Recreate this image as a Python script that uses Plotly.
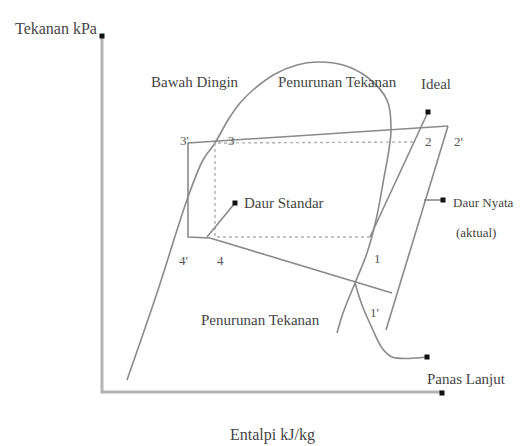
import plotly.graph_objects as go

# schematic p-h diagram, coordinates in picture units (x right, y down)
dome_x = [127, 157, 188, 203, 215, 228, 240, 253, 275, 297, 317, 343, 367, 387, 391, 383, 376, 367, 355, 343, 337]
dome_y = [380, 293, 197, 160, 143, 120, 103, 90, 74, 65, 62, 65, 77, 100, 130, 183, 220, 253, 283, 313, 333]

# actual cycle (solid)
nyata_x = [448, 188, 188, 210, 392]
nyata_y = [126, 143, 237, 238, 293]
kompresi_x = [386, 448]
kompresi_y = [330, 126]

# ideal cycle (dotted)
ideal_x = [413, 215, 215, 370]
ideal_y = [142, 143, 237, 237]
ideal_komp_x = [370, 428]
ideal_komp_y = [237, 112]

# leader lines
panas_x = [355, 362, 372, 382, 392, 427]
panas_y = [283, 305, 328, 348, 357, 357]
standar_x = [207, 235]
standar_y = [237, 203]
nyata_lead_x = [424, 443]
nyata_lead_y = [200, 200]

# axes
sumbu_x = [102, 102, 442]
sumbu_y = [36, 392, 392]
dot_x = [102, 442, 428, 235, 443, 427]
dot_y = [36, 393, 112, 203, 200, 357]

labels = ["Tekanan kPa", "Bawah Dingin", "Penurunan Tekanan", "Ideal", "Daur Standar",
          "Daur Nyata", "(aktual)", "Penurunan Tekanan", "Panas Lanjut", "Entalpi kJ/kg"]
label_x = [56, 195, 337, 436, 284, 483, 476, 260, 466, 272]
label_y = [28, 82, 82, 84, 203, 202, 232, 320, 379, 435]
label_size = [16, 15, 15, 15, 15, 13, 13, 15, 15, 16]

titik = ["3'", "3", "2", "2'", "4'", "4", "1", "1'"]
titik_x = [184, 231, 428, 458, 183, 220, 377, 374]
titik_y = [140, 140, 141, 141, 260, 260, 258, 312]

line_col = "#8a8a8a"
fig = go.Figure()


def garis(x, y, dash="solid", width=1.6, color=line_col, shape="linear"):
    fig.add_trace(go.Scatter(x=x, y=y, mode="lines", hoverinfo="skip",
                             line=dict(color=color, width=width, dash=dash, shape=shape)))


garis(sumbu_x, sumbu_y, width=3, color="#b4b4b4")
garis(dome_x, dome_y, shape="spline")
garis(nyata_x, nyata_y)
garis(kompresi_x, kompresi_y)
garis(ideal_x, ideal_y, dash="dot", width=1.4, color="#b0b0b0")
garis(ideal_komp_x, ideal_komp_y)
garis(panas_x, panas_y, shape="spline")
garis(standar_x, standar_y)
garis(nyata_lead_x, nyata_lead_y)

fig.add_trace(go.Scatter(x=dot_x, y=dot_y, mode="markers", hoverinfo="skip",
                         marker=dict(symbol="square", size=5, color="#111")))

for t, x, y, s in zip(labels, label_x, label_y, label_size):
    fig.add_annotation(x=x, y=y, text=t, showarrow=False,
                       font=dict(family="Liberation Serif", size=s, color="#444"))
for t, x, y in zip(titik, titik_x, titik_y):
    fig.add_annotation(x=x, y=y, text=t, showarrow=False,
                       font=dict(family="Liberation Serif", size=13, color="#555"))

# page body has an 8px margin, shift the ranges so picture units match pixels
fig.update_xaxes(range=[8, 533], visible=False)
fig.update_yaxes(range=[454, 8], visible=False)
fig.update_layout(width=525, height=446, showlegend=False,
                  margin={"r": 0, "t": 0, "l": 0, "b": 0},
                  plot_bgcolor="white", paper_bgcolor="white")
fig.write_html("out.html")
